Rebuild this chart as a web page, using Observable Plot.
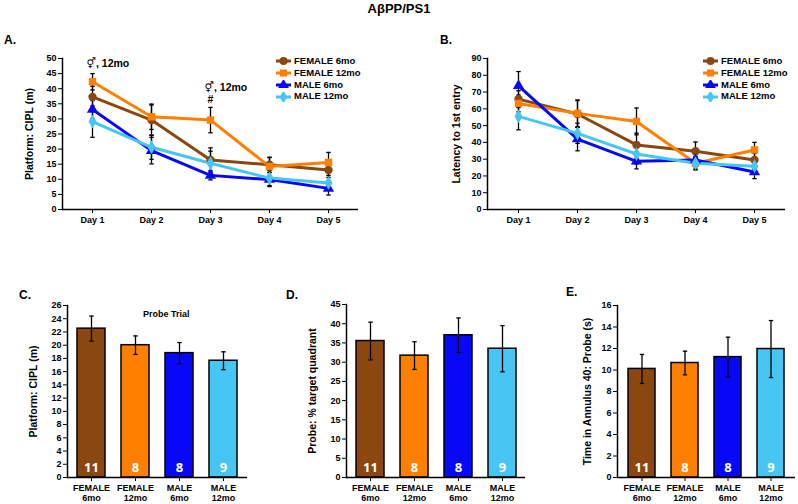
<!DOCTYPE html>
<html><head><meta charset="utf-8">
<script src="https://cdn.jsdelivr.net/npm/d3@7"></script>
<script src="https://cdn.jsdelivr.net/npm/@observablehq/plot@0.6"></script>
<style>
body{margin:0;background:#fff;font-family:"Liberation Sans",Arial,"DejaVu Sans",sans-serif;}
#root{position:relative;width:798px;height:504px;overflow:hidden;background:#fff;}
.abs{position:absolute;}
.plab{position:absolute;font-weight:bold;font-size:12px;line-height:12px;}
.leg{position:absolute;font-weight:bold;font-size:9.5px;line-height:11px;white-space:nowrap;}
.leg svg{vertical-align:middle;margin-right:3px;}
</style></head>
<body><div id="root"></div>
<script>
const FONT = '"Liberation Sans", Arial, "DejaVu Sans", sans-serif';
const days = ["Day 1","Day 2","Day 3","Day 4","Day 5"];
const groups = ["FEMALE 6mo","FEMALE 12mo","MALE 6mo","MALE 12mo"];
const colors = ["#8B4710","#FF8000","#0808F8","#47C6F4"];
const symbols = ["circle","square","triangle","diamond"];

// Panel A: Platform CIPL (m), mean and SEM per day
const ciplF6 = [37.3, 29.6, 16.4, 14.8, 13.1];
const ciplF12 = [42.3, 30.7, 29.6, 14.2, 15.6];
const ciplM6 = [33.1, 19.5, 11.3, 9.9, 7.0];
const ciplM12 = [29.1, 20.6, 15.3, 10.4, 8.8];
const ciplF6Err = [3.5, 5.0, 4.0, 2.5, 2.5];
const ciplF12Err = [2.7, 4.2, 4.2, 3.0, 3.3];
const ciplM6Err = [3.0, 4.4, 1.5, 2.3, 2.2];
const ciplM12Err = [5.2, 4.0, 4.0, 2.5, 2.5];

// Panel B: Latency to 1st entry
const latF6 = [65.8, 56.9, 38.5, 34.7, 29.5];
const latF12 = [63.2, 57.3, 52.5, 27.6, 35.5];
const latM6 = [73.7, 42.0, 28.7, 29.5, 22.4];
const latM12 = [55.5, 45.4, 33.1, 27.6, 25.8];
const latF6Err = [5, 8, 7, 5.5, 4];
const latF12Err = [5, 8, 8, 4, 4.5];
const latM6Err = [8.5, 7, 4.5, 4, 4];
const latM12Err = [8, 6, 6, 3.5, 3.5];

// Annotations on panel A
const annoDays = ["Day 1", "Day 3"];
const annoY = [48.3, 40.2];
const annoText = ["\u26A5, 12mo", "\u26A5, 12mo"];
const hashDays = ["Day 3"];
const hashY = [36.3];

// Probe trial bars
const ns = [11, 8, 8, 9];
const probeCipl = [22.5, 20.0, 18.8, 17.65];
const probeCiplErr = [1.9, 1.4, 1.6, 1.35];
const probeQuad = [35.5, 31.7, 37.0, 33.5];
const probeQuadErr = [4.9, 3.6, 4.5, 6.0];
const probeAnn = [10.1, 10.65, 11.2, 11.95];
const probeAnnErr = [1.35, 1.1, 1.85, 2.65];

const root = document.getElementById("root");
const capSymbol = {draw(ctx, size){ const r = Math.sqrt(size/Math.PI); ctx.moveTo(-r,0); ctx.lineTo(r,0); }};
const baseStyle = {fontFamily: FONT, fontSize: "9px", fontWeight: "bold", color: "black", background: "transparent", overflow: "visible"};

function place(node, left, top){
  const d = document.createElement("div");
  d.className = "abs"; d.style.left = left + "px"; d.style.top = top + "px";
  d.appendChild(node); root.appendChild(d);
}
function fixLabel(svg, size){
  d3.select(svg).selectAll('g[aria-label="y-axis label"]').attr("font-size", size + "px");
}

function linePanel(o){
  const series = [o.f6, o.f12, o.m6, o.m12];
  const errs = [o.f6e, o.f12e, o.m6e, o.m12e];
  const data = [];
  groups.forEach((g,i)=>days.forEach((d,j)=>data.push({group:g, day:d, v:series[i][j], e:errs[i][j]})));
  const marks = [
    Plot.ruleX(data, {x:"day", y1:d=>d.v-d.e, y2:d=>d.v+d.e, stroke:"black", strokeWidth:1.3}),
    Plot.dot(data, {x:"day", y:d=>d.v+d.e, symbol:capSymbol, r:2.2, fill:"none", stroke:"black", strokeWidth:1.3}),
    Plot.dot(data, {x:"day", y:d=>d.v-d.e, symbol:capSymbol, r:2.2, fill:"none", stroke:"black", strokeWidth:1.3}),
    Plot.line(data, {x:"day", y:"v", z:"group", stroke:"group", strokeWidth:3}),
    Plot.dot(data, {x:"day", y:"v", symbol:"group", fill:"group", r:4.2, stroke:"none"}),
    Plot.ruleY([0], {stroke:"black", strokeWidth:1.5}),
    Plot.frame({anchor:"left", stroke:"black", strokeWidth:1.5}),
    Plot.axisX({tickSize:4, tickPadding:3, label:null}),
    Plot.axisY({ticks:d3.range(0, o.ymax + o.ystep/2, o.ystep), tickSize:4, tickPadding:2,
      label:o.label, labelAnchor:"center", labelOffset:o.labelOffset, labelArrow:"none"})
  ];
  if (o.anno) marks.push(
    Plot.text(o.anno.days.map((d,i)=>({day:d, y:o.anno.y[i], t:o.anno.text[i]})), {x:"day", y:"y", text:"t", textAnchor:"start", dx:-6, fontSize:10.5, fontWeight:"bold"}),
    Plot.text(o.anno.hashDays.map((d,i)=>({day:d, y:o.anno.hashY[i]})), {x:"day", y:"y", text:()=>"#", fontSize:10.5, fontWeight:"bold"})
  );
  const svg = Plot.plot({
    width:o.width, height:200, marginLeft:o.marginLeft, marginRight:o.marginRight, marginTop:28, marginBottom:21,
    style: baseStyle,
    x:{type:"point", domain:days, padding:0.5},
    y:{domain:[0,o.ymax]},
    color:{domain:groups, range:colors},
    symbol:{domain:groups, range:symbols},
    marks
  });
  fixLabel(svg, 10.5);
  place(svg, o.left, 30);
}

function barPanel(o){
  const data = groups.map((g,i)=>({group:g, v:o.means[i], e:o.errs[i], n:ns[i]}));
  const marks = [
    Plot.barY(data, {x:"group", y:"v", fill:"group", stroke:"black", strokeWidth:1.5}),
    Plot.ruleX(data, {x:"group", y1:d=>d.v-d.e, y2:d=>d.v+d.e, stroke:"black", strokeWidth:1.3}),
    Plot.dot(data, {x:"group", y:d=>d.v+d.e, symbol:capSymbol, r:2.2, fill:"none", stroke:"black", strokeWidth:1.3}),
    Plot.dot(data, {x:"group", y:d=>d.v-d.e, symbol:capSymbol, r:2.2, fill:"none", stroke:"black", strokeWidth:1.3}),
    Plot.text(data, {x:"group", y:()=>0, text:d=>String(d.n), dy:-10, fill:"white", fontSize:13, fontWeight:"bold", fontFamily:'"Open Sans", "DejaVu Sans", sans-serif'}),
    Plot.ruleY([0], {stroke:"black", strokeWidth:1.5}),
    Plot.frame({anchor:"left", stroke:"black", strokeWidth:1.5}),
    Plot.axisX({tickSize:4, tickPadding:2, label:null, tickFormat:d=>d.replace(" ","\n"), lineHeight:1.15}),
    Plot.axisY({ticks:d3.range(0, o.ymax + o.ystep/2, o.ystep), tickSize:4, tickPadding:2,
      label:o.label, labelAnchor:"center", labelOffset:o.labelOffset, labelArrow:"none"})
  ];
  const svg = Plot.plot({
    width:o.width, height:234, marginLeft:o.marginLeft, marginRight:o.marginRight, marginTop:o.marginTop, marginBottom:27,
    style: baseStyle,
    x:{domain:groups, paddingInner:0.37, paddingOuter:0.21},
    y:{domain:[0,o.ymax]},
    color:{domain:groups, range:colors},
    marks
  });
  fixLabel(svg, 10.5);
  place(svg, o.left, 270);
}

linePanel({left:0, width:400, marginLeft:62, marginRight:42, ymax:50, ystep:5, label:"Platform: CIPL (m)", labelOffset:37,
  f6:ciplF6, f12:ciplF12, m6:ciplM6, m12:ciplM12, f6e:ciplF6Err, f12e:ciplF12Err, m6e:ciplM6Err, m12e:ciplM12Err,
  anno:{days:annoDays, y:annoY, text:annoText, hashDays, hashY}});
linePanel({left:400, width:398, marginLeft:87, marginRight:13, ymax:90, ystep:10, label:"Latency to 1st entry", labelOffset:35,
  f6:latF6, f12:latF12, m6:latM6, m12:latM12, f6e:latF6Err, f12e:latF12Err, m6e:latM6Err, m12e:latM12Err});
barPanel({left:0, width:265, marginLeft:67, marginRight:18, marginTop:35, ymax:26, ystep:2, label:"Platform: CIPL (m)", labelOffset:38, means:probeCipl, errs:probeCiplErr});
barPanel({left:270, width:265, marginLeft:76, marginRight:10, marginTop:34, ymax:45, ystep:5, label:"Probe: % target quadrant", labelOffset:38, means:probeQuad, errs:probeQuadErr});
barPanel({left:530, width:268, marginLeft:87, marginRight:3, marginTop:35, ymax:16, ystep:2, label:"Time in Annulus 40: Probe (s)", labelOffset:34, means:probeAnn, errs:probeAnnErr});

// Text overlays
function addText(txt, cls, left, top, extra){
  const d = document.createElement("div"); d.className = cls; d.textContent = txt;
  d.style.left = left + "px"; d.style.top = top + "px";
  if (extra) Object.assign(d.style, extra);
  root.appendChild(d); return d;
}
addText("A\u03B2PP/PS1", "plab", 0, 3, {width:"798px", textAlign:"center", fontSize:"13px"});
addText("A.", "plab", 4, 34);
addText("B.", "plab", 440, 34);
addText("C.", "plab", 19, 289);
addText("D.", "plab", 286, 289);
addText("E.", "plab", 566, 286);
addText("Probe Trial", "plab", 143, 308, {fontSize:"9px"});

function legend(left, top){
  groups.forEach((g,i)=>{
    const row = document.createElement("div"); row.className = "leg";
    row.style.left = left + "px"; row.style.top = (top + i*11.8) + "px";
    const s = d3.create("svg").attr("width",15).attr("height",10);
    s.append("line").attr("x1",0).attr("x2",15).attr("y1",5).attr("y2",5).attr("stroke",colors[i]).attr("stroke-width",3);
    const types = {circle:d3.symbolCircle, square:d3.symbolSquare, triangle:d3.symbolTriangle, diamond:d3.symbolDiamond};
    s.append("path").attr("transform","translate(7.5,5)").attr("d", d3.symbol(types[symbols[i]], 50)()).attr("fill", colors[i]);
    row.appendChild(s.node());
    row.appendChild(document.createTextNode(g));
    root.appendChild(row);
  });
}
legend(276, 55);
legend(703, 55);
</script>
</body></html>
